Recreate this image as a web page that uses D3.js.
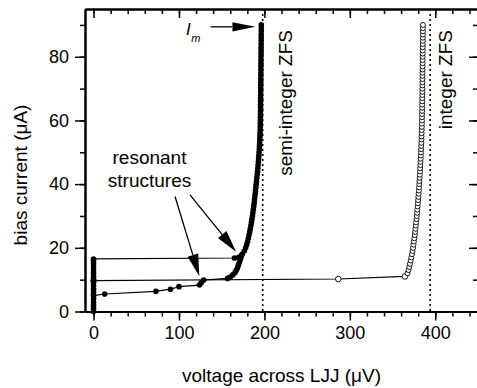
<!DOCTYPE html>
<html>
<head>
<meta charset="utf-8">
<script src="https://cdn.jsdelivr.net/npm/d3@7"></script>
<style>
  body { margin: 0; background: #fff; }
  svg { display: block; }
  text { font-family: "Liberation Sans", Arial, sans-serif; fill: #000; }
  .axis path, .axis line { stroke: #000; }
  .axis path { stroke-width: 2; }
  .axis line { stroke-width: 1.5; }
</style>
</head>
<body>
<svg id="chart"></svg>
<script>
// tick values
const xMajor = [0, 100, 200, 300, 400];
const xMinor = [0, 20, 40, 60, 80, 100, 120, 140, 160, 180, 200, 220, 240, 260, 280, 300, 320, 340, 360, 380, 400, 420, 440];
const yMajor = [0, 20, 40, 60, 80];
const yMinor = [0, 10, 20, 30, 40, 50, 60, 70, 80, 90];

// zero-field steps, voltage (µV)
const zfsLines = [198, 394];

// filled series: current at V = 0 before switching
const stackI = [0, 1, 2, 3, 4, 5, 6, 7, 8, 9, 10, 11, 12, 13, 14, 15, 16, 16.5];

// filled series: switched branch going up (semi-integer ZFS)
const riseV = [164.9, 170, 174, 176.5, 178, 179.3, 180.3, 181.2, 182, 182.8,
  183.5, 184.2, 184.8, 185.4, 186, 186.5, 187, 187.5, 188, 188.4,
  188.8, 189.2, 189.6, 190, 190.4, 190.8, 191.2, 191.6, 192, 192.3,
  192.6, 192.9, 193.2, 193.5, 193.8, 194, 194.2, 194.4, 194.6, 194.8,
  194.9, 195, 195.1, 195.2, 195.3, 195.35, 195.4, 195.45, 195.5, 195.5,
  195.55, 195.6, 195.6, 195.65, 195.7, 195.7, 195.75, 195.8, 195.8, 195.85,
  195.9, 195.9, 195.95, 196, 196, 196.05, 196.1, 196.1, 196.15, 196.2,
  196.2, 196.25, 196.3, 196.3, 196.35];
const riseI = [16.8, 17, 18, 19, 20, 21, 22, 23, 24, 25,
  26, 27, 28, 29, 30, 31, 32, 33, 34, 35,
  36, 37, 38, 39, 40, 41, 42, 43, 44, 45,
  46, 47, 48, 49, 50, 51, 52, 53, 54, 55,
  56, 57, 58, 59, 60, 61, 62, 63, 64, 65,
  66, 67, 68, 69, 70, 71, 72, 73, 74, 75,
  76, 77, 78, 79, 80, 81, 82, 83, 84, 85,
  86, 87, 88, 89, 90];

// filled series: coming back down through the resonant structures
const fallV = [173, 172.5, 171.5, 170.5, 169.5, 168.5, 167, 165.5, 163, 160, 157, 129, 126, 124, 100, 90, 73, 13, 0];
const fallI = [17.6, 16.9, 16.1, 15.3, 14.5, 13.7, 12.9, 12.2, 11.5, 10.8, 10.4, 9.9, 9.0, 8.3, 7.8, 7.0, 6.35, 5.5, 5.0];

// open series: integer ZFS branch
const openV = [0, 286.5, 364.5,
  367.5, 368.7, 369.6, 370.4, 371.2, 372, 372.7, 373.4, 374,
  374.5, 375, 375.5, 376, 376.4, 376.8, 377.2, 377.6, 378, 378.3,
  378.7, 379, 379.3, 379.6, 379.9, 380.2, 380.5, 380.8, 381, 381.3,
  381.5, 381.7, 381.9, 382.1, 382.3, 382.5, 382.7, 382.9, 383.1, 383.2,
  383.4, 383.5, 383.7, 383.8, 383.9, 384, 384.1, 384.2, 384.3, 384.4,
  384.45, 384.5, 384.55, 384.6, 384.65, 384.7, 384.75, 384.8, 384.85, 384.9,
  384.9, 384.95, 385, 385, 385.05, 385.1, 385.1, 385.15, 385.2, 385.2,
  385.25, 385.3, 385.3, 385.35, 385.4, 385.4, 385.45, 385.5, 385.5, 385.55];
const openI = [9.7, 10.2, 11.0,
  12, 13, 14, 15, 16, 17, 18, 19, 20,
  21, 22, 23, 24, 25, 26, 27, 28, 29, 30,
  31, 32, 33, 34, 35, 36, 37, 38, 39, 40,
  41, 42, 43, 44, 45, 46, 47, 48, 49, 50,
  51, 52, 53, 54, 55, 56, 57, 58, 59, 60,
  61, 62, 63, 64, 65, 66, 67, 68, 69, 70,
  71, 72, 73, 74, 75, 76, 77, 78, 79, 80,
  81, 82, 83, 84, 85, 86, 87, 88, 89, 90];

// annotation arrows in data units: [V tail, I tail, V tip, I tip]
const arrowIm = [137, 89.4, 189.5, 89.4];
const arrowRes = [[95.4, 36.1, 123.8, 11.1], [112.9, 36.6, 166.8, 18.8]];

const W = 477, H = 388;
const mLeft = 85, mRight = 478, mTop = 9, mBottom = 311.5;

const svg = d3.select("#chart").attr("width", W).attr("height", H);

const x = d3.scaleLinear().domain([-10, 450]).range([mLeft, mRight]);
const y = d3.scaleLinear().domain([0, 95]).range([mBottom, mTop]);

const zip = (vs, is) => vs.map((v, k) => [v, is[k]]);
const stack = stackI.map(i => [0, i]);
const rise = zip(riseV, riseI);
const fall = zip(fallV, fallI);
const open = zip(openV, openI);

// axes
svg.append("g").attr("class", "axis")
   .attr("transform", `translate(0,${mBottom})`)
   .call(d3.axisBottom(x).tickValues(xMinor).tickSize(5).tickSizeOuter(0).tickFormat(""));
svg.append("g").attr("class", "axis")
   .attr("transform", `translate(0,${mBottom})`)
   .call(d3.axisBottom(x).tickValues(xMajor).tickSize(9).tickSizeOuter(0).tickPadding(6))
   .call(g => g.selectAll("text").attr("font-size", 18).attr("font-family", "Liberation Sans"));
svg.append("g").attr("class", "axis")
   .attr("transform", `translate(0,${mTop})`)
   .call(d3.axisBottom(x).tickValues(xMinor).tickSize(5).tickSizeOuter(0).tickFormat(""));
svg.append("g").attr("class", "axis")
   .attr("transform", `translate(0,${mTop})`)
   .call(d3.axisBottom(x).tickValues(xMajor).tickSize(9).tickSizeOuter(0).tickFormat(""));

svg.append("g").attr("class", "axis")
   .attr("transform", `translate(${mLeft},0)`)
   .call(d3.axisLeft(y).tickValues(yMinor).tickSize(5).tickSizeOuter(0).tickFormat(""));
svg.append("g").attr("class", "axis")
   .attr("transform", `translate(${mLeft},0)`)
   .call(d3.axisLeft(y).tickValues(yMajor).tickSize(10).tickSizeOuter(0).tickPadding(6))
   .call(g => g.selectAll("text").attr("font-size", 18).attr("font-family", "Liberation Sans"));
svg.append("g").attr("class", "axis")
   .attr("transform", `translate(${mRight},0)`)
   .call(d3.axisLeft(y).tickValues(yMinor).tickSize(5).tickSizeOuter(0).tickFormat(""));
svg.append("g").attr("class", "axis")
   .attr("transform", `translate(${mRight},0)`)
   .call(d3.axisLeft(y).tickValues(yMajor).tickSize(9).tickSizeOuter(0).tickFormat(""));

// dotted ZFS markers
svg.selectAll(".zfs").data(zfsLines).enter().append("line")
   .attr("class", "zfs")
   .attr("x1", d => x(d)).attr("x2", d => x(d))
   .attr("y1", y(95)).attr("y2", y(0))
   .attr("stroke", "#000").attr("stroke-width", 1.6)
   .attr("stroke-dasharray", "2,3");

const line = d3.line().x(d => x(d[0])).y(d => y(d[1]));

// open series
svg.append("path").datum(open)
   .attr("d", line).attr("fill", "none")
   .attr("stroke", "#000").attr("stroke-width", 1.2);
svg.selectAll(".open").data(open).enter().append("circle")
   .attr("class", "open")
   .attr("cx", d => x(d[0])).attr("cy", d => y(d[1]))
   .attr("r", (d, k) => k < 3 ? 2.8 : 2.5)
   .attr("fill", "#fff").attr("stroke", "#000").attr("stroke-width", 0.9);

// filled series
const filled = stack.concat(rise);
svg.append("path").datum(filled)
   .attr("d", line).attr("fill", "none")
   .attr("stroke", "#000").attr("stroke-width", 1.2);
svg.append("path").datum(fall)
   .attr("d", line).attr("fill", "none")
   .attr("stroke", "#000").attr("stroke-width", 1.2);
svg.selectAll(".dot").data(filled.concat(fall)).enter().append("circle")
   .attr("class", "dot")
   .attr("cx", d => x(d[0])).attr("cy", d => y(d[1]))
   .attr("r", 2.8).attr("fill", "#000");

// arrows
function arrow(a, len, half) {
  const x1 = x(a[0]), y1 = y(a[1]), x2 = x(a[2]), y2 = y(a[3]);
  const ang = Math.atan2(y2 - y1, x2 - x1);
  const bx = x2 - len * Math.cos(ang), by = y2 - len * Math.sin(ang);
  const px = -Math.sin(ang) * half, py = Math.cos(ang) * half;
  svg.append("line").attr("x1", x1).attr("y1", y1).attr("x2", bx).attr("y2", by)
     .attr("stroke", "#000").attr("stroke-width", 1.3);
  svg.append("path")
     .attr("d", `M${x2},${y2}L${bx + px},${by + py}L${bx - px},${by - py}Z`)
     .attr("fill", "#000");
}
arrow(arrowIm, 23, 4.6);
arrowRes.forEach(a => arrow(a, 22, 5.5));

// labels
svg.append("text").attr("x", (mLeft + mRight) / 2).attr("y", 382)
   .attr("text-anchor", "middle").attr("font-size", 19)
   .text("voltage across LJJ (μV)");
svg.append("text").attr("transform", `translate(27,175) rotate(-90)`)
   .attr("text-anchor", "middle").attr("font-size", 19)
   .text("bias current (μA)");

svg.append("text").attr("transform", `translate(${x(232.4)},${y(88.4)}) rotate(-90)`)
   .attr("text-anchor", "end").attr("font-size", 19)
   .text("semi-integer ZFS");
svg.append("text").attr("transform", `translate(${x(419.7)},${y(88.4)}) rotate(-90)`)
   .attr("text-anchor", "end").attr("font-size", 19)
   .text("integer ZFS");

svg.append("text").attr("x", x(65.5)).attr("y", y(46.3))
   .attr("text-anchor", "middle").attr("font-size", 19).text("resonant");
svg.append("text").attr("x", x(65.5)).attr("y", y(39.1))
   .attr("text-anchor", "middle").attr("font-size", 19).text("structures");

const im = svg.append("text").attr("x", x(108.3)).attr("y", y(86.8))
   .attr("font-family", "Liberation Serif").attr("font-style", "italic").attr("font-size", 17);
im.append("tspan").text("I");
im.append("tspan").attr("dx", 0.5).attr("dy", 7).attr("font-size", 11).text("m");
</script>
</body>
</html>
